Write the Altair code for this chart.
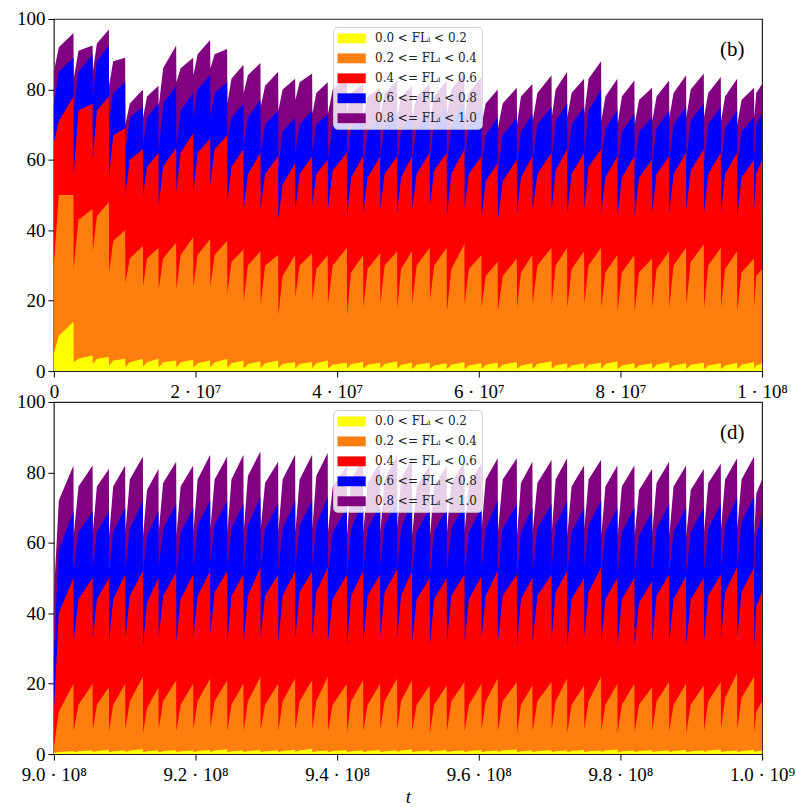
import json
import altair as alt
import pandas as pd

# ---------------- data ----------------
# tooth start times, in units of 1e6, relative to each panel's start
TOOTH_START = [0, 2.8, 5.5, 7.8, 10.1, 12.6, 14.8, 17.3, 19.7, 22.1, 24.5, 26.8, 29.2, 31.7,
               34.1, 36.5, 38.7, 41.4, 43.7, 46.1, 48.5, 50.6, 53.1, 55.5, 58.0, 60.4, 62.7,
               65.4, 67.6, 70.3, 72.5, 74.9, 77.3, 79.6, 82.0, 84.5, 86.9, 89.3, 91.8, 94.2,
               96.5, 98.9]
SPAN = 100.0
TOP_T0 = 0.0
BOT_T0 = 900.0

SERIES = ["0.0 < FLᵢ < 0.2", "0.2 <= FLᵢ < 0.4", "0.4 <= FLᵢ < 0.6",
          "0.6 <= FLᵢ < 0.8", "0.8 <= FLᵢ < 1.0"]
COLORS = ["#ffff00", "#ff7f0e", "#ff0000", "#0000ff", "#800080"]

TOP_TICKS = [0, 2e7, 4e7, 6e7, 8e7, 1e8]
TOP_TICK_LABELS = ["0", "2 · 10⁷", "4 · 10⁷", "6 · 10⁷", "8 · 10⁷", "1 · 10⁸"]
BOT_TICKS = [9.0e8, 9.2e8, 9.4e8, 9.6e8, 9.8e8, 1.0e9]
BOT_TICK_LABELS = ["9.0 · 10⁸", "9.2 · 10⁸", "9.4 · 10⁸", "9.6 · 10⁸", "9.8 · 10⁸", "1.0 · 10⁹"]
Y_TICKS = [0, 20, 40, 60, 80, 100]
PANEL_LABELS = ["(b)", "(d)"]

# ---- top panel (b): cumulative upper boundaries, per tooth: low / knee / high ----
top_y_lo = [5, 2.5, 2, 1.5, 1.2, 1.2, 1.0, 1.0, 1.0, 1.0, 0.9, 0.8, 0.8, 0.8, 0.8, 0.7, 0.7, 0.7, 0.7, 0.7, 0.6,
            0.6, 0.6, 0.6, 0.6, 0.6, 0.6, 0.6, 0.6, 0.6, 0.6, 0.6, 0.6, 0.6, 0.6, 0.6, 0.6, 0.6, 0.6, 0.6, 0.6, 0.6]
top_y_kn = [10, 3.5, 3.5, 3, 2.5, 2.5, 2.5, 2.5, 2.2, 2.5, 2.2, 2.0, 2.2, 2.0, 2.0, 2.2, 1.8, 2.0, 1.8, 2.0, 1.8,
            1.8, 1.6, 1.8, 1.6, 1.8, 1.8, 1.6, 2.0, 1.6, 1.6, 1.8, 2.0, 1.6, 1.6, 1.8, 1.6, 1.8, 1.6, 1.6, 1.8, 1.6]
top_y_hi = [14, 4.5, 4, 3.5, 3.5, 3.5, 3, 3.2, 3, 3.4, 3, 2.8, 3, 2.6, 2.6, 3, 2.4, 2.6, 2.4, 2.8, 2.4,
            2.4, 2.2, 2.6, 2.2, 2.4, 2.6, 2.2, 2.8, 2.2, 2.2, 2.4, 2.8, 2.2, 2.2, 2.6, 2.2, 2.4, 2.2, 2.4, 2.6, 2.2]

top_o_lo = [30, 29, 34, 28, 25, 24, 23, 23, 24, 24, 22, 20, 19, 16, 21, 20, 19, 16, 18, 19, 18,
            19, 20, 17, 19, 18, 17, 18, 19, 19, 18, 19, 18, 17, 17, 18, 18, 19, 18, 18, 17, 18]
top_o_kn = [50, 43, 44, 37, 32, 32, 32, 33, 33, 33, 31, 30, 30, 27, 30, 29, 30, 28, 29, 30, 29,
            30, 30, 29, 29, 27, 27, 28, 30, 30, 29, 30, 28, 28, 28, 29, 30, 31, 30, 29, 28, 27]
top_o_hi = [50, 46, 48, 40, 35.5, 35, 36.5, 38, 37.5, 37, 34.5, 34, 33, 33, 33.5, 33, 35, 33, 33.5, 34, 34,
            35, 35, 36, 33, 31, 32, 33, 35, 35, 34, 35, 33, 33, 32, 34, 35, 36, 35, 34, 32, 29]

top_r_lo = [65, 56, 60, 55, 50, 50, 47, 51, 51, 53, 48, 46, 46, 43, 46, 47, 46, 44, 45, 46, 45,
            46, 47, 44, 46, 44, 43, 45, 46, 46, 45, 46, 45, 44, 44, 45, 45, 46, 45, 45, 44, 46]
top_r_kn = [71, 74, 74, 67, 60, 58, 58, 62, 62, 63, 58, 56, 56, 53, 56, 56, 57, 55, 55, 56, 55,
            56, 57, 56, 56, 54, 54, 55, 56, 57, 56, 58, 55, 55, 55, 56, 56, 57, 56, 56, 55, 56]
top_r_hi = [78, 76, 78, 69, 63, 62, 63.5, 67.5, 66, 67, 63, 62, 61, 59, 61, 60, 62, 61, 61, 61, 61,
            62, 62, 63, 61, 59, 60, 61, 62, 63, 62, 63, 61, 61, 60, 61, 62, 63, 62, 62, 60, 60]

top_b_lo = [76, 74, 78, 71, 62, 64, 62, 64, 72, 72, 66, 64, 62, 58, 62, 62, 60, 60, 58, 61, 59,
            60, 61, 58, 60, 58, 57, 59, 60, 60, 60, 62, 59, 58, 58, 59, 60, 60, 59, 59, 58, 60]
top_b_kn = [85, 85, 88, 79, 72, 72, 76, 74, 80, 79, 72, 72, 70, 68, 70, 70, 70, 69, 68, 70, 68,
            69, 70, 70, 70, 67, 67, 68, 70, 71, 70, 74, 69, 68, 68, 69, 70, 71, 70, 69, 68, 70]
top_b_hi = [89, 90, 92.5, 82, 75, 76, 81, 79, 84, 82, 76, 77, 74, 72, 74, 73, 74, 73, 72, 74, 73,
            74, 75, 76, 75, 72, 72, 73, 75, 76, 75, 80, 74, 73, 72, 74, 75, 76, 75, 74, 72, 73]

top_p_lo = [85, 83, 85, 81, 70, 72, 75, 82, 84, 86, 76, 79, 75, 74, 77, 73, 73, 74, 72, 73, 72,
            72, 71, 73, 72, 70, 69, 70, 71, 72, 72, 73, 71, 70, 70, 71, 72, 72, 72, 71, 70, 72]
top_p_kn = [92, 91, 93, 88, 76, 78, 86, 86, 90, 90, 83, 84, 81, 80, 82, 79, 80, 79, 78, 79, 78,
            78, 78, 80, 79, 76, 76, 78, 79, 80, 79, 83, 78, 78, 77, 78, 79, 80, 79, 78, 77, 79]
top_p_hi = [96, 92.5, 97, 89, 80, 81, 92.5, 89, 94, 91.5, 87, 87.5, 85, 83, 84.5, 82, 83.5, 81.5, 80.5, 82.5, 81,
            81.5, 82.5, 84.5, 83.5, 80, 80.5, 81.5, 84, 85, 83, 88, 83, 82.5, 80.5, 82.5, 84, 84.5, 83.5, 83, 80.5, 81.5]

# ---- bottom panel (d) ----
bot_y_lo = [0.3, 0.5, 0.6, 0.5, 0.6, 0.5, 0.5, 0.6, 0.5, 0.6, 0.5, 0.5, 0.6, 0.5, 0.6, 0.5, 0.5, 0.6, 0.5, 0.5, 0.6,
            0.5, 0.5, 0.6, 0.5, 0.5, 0.6, 0.5, 0.5, 0.6, 0.5, 0.5, 0.6, 0.5, 0.5, 0.6, 0.5, 0.5, 0.6, 0.5, 0.5, 0.5]
bot_y_kn = [0.6, 0.8, 0.9, 0.8, 1.0, 0.8, 0.9, 0.8, 0.9, 1.0, 0.8, 0.9, 0.8, 0.9, 1.0, 0.8, 0.9, 0.8, 0.9, 0.8, 1.0,
            0.8, 0.9, 0.8, 0.9, 0.8, 1.0, 0.8, 0.9, 0.8, 0.9, 0.8, 1.0, 0.8, 0.9, 0.8, 0.9, 0.8, 1.0, 0.8, 0.9, 0.8]
bot_y_hi = [0.9, 1.0, 1.2, 1.0, 1.4, 1.0, 1.1, 1.0, 1.2, 1.4, 1.0, 1.1, 1.0, 1.2, 1.5, 1.0, 1.1, 1.0, 1.2, 1.0, 1.3,
            1.0, 1.1, 1.0, 1.2, 1.0, 1.3, 1.0, 1.1, 1.0, 1.2, 1.0, 1.3, 1.0, 1.1, 1.0, 1.2, 1.0, 1.3, 1.0, 1.2, 1.0]

bot_o_lo = [2, 6.5, 7, 6.5, 7, 6, 7, 6.5, 7, 7.5, 6.5, 6.5, 7, 6.5, 7, 7, 6.5, 6, 6.5, 7, 7,
            6.5, 6, 6.5, 6.5, 7, 6.5, 6, 6.5, 7, 6, 7, 6.5, 6, 6, 6.5, 6.5, 6, 6.5, 7, 7, 6]
bot_o_kn = [12, 14, 14, 14, 15, 13, 15, 14, 15, 15, 14, 15, 14, 15, 15, 15, 14, 15, 14, 15, 15,
            14, 14, 15, 14, 15, 15, 14, 15, 15, 14, 15, 14, 14, 14, 15, 14, 14, 15, 16, 16, 12]
bot_o_hi = [20, 20, 19, 20, 22, 19, 21, 20, 21.5, 21, 20, 22, 20, 21.5, 21, 22, 20, 21, 20, 21.5, 21,
            19.5, 19.5, 20.5, 20, 21.5, 20.5, 19.5, 20.5, 21.5, 19.5, 22, 20, 20, 19, 20.5, 20, 19.5, 20.5, 23, 22, 15]

bot_r_lo = [12, 32, 33, 32, 33, 31, 33, 32, 33, 34, 32, 32, 33, 32, 33, 33, 32, 31, 32, 33, 33,
            32, 31, 32, 32, 33, 32, 31, 32, 33, 31, 33, 32, 31, 31, 32, 32, 31, 32, 33, 33, 30]
bot_r_kn = [40, 44, 44, 44, 45, 43, 45, 44, 45, 46, 45, 45, 45, 45, 46, 46, 44, 45, 45, 46, 45,
            44, 44, 45, 44, 45, 45, 44, 45, 46, 44, 46, 44, 44, 43, 45, 44, 44, 45, 46, 46, 42]
bot_r_hi = [50, 50, 50, 51, 52, 50, 51.5, 51, 52, 52, 51, 53, 51, 52, 52, 53, 51, 52, 51, 52.5, 52,
            50, 50, 51, 50.5, 52, 51, 50, 51, 52, 50, 53, 50, 50, 49, 51, 50.5, 50, 51, 53, 53, 46]

bot_b_lo = [28, 52, 53, 52, 53, 52, 53, 51, 53, 54, 53, 52, 53, 52, 53, 53, 52, 51, 52, 53, 53,
            52, 51, 52, 52, 53, 52, 51, 52, 53, 51, 53, 52, 51, 51, 52, 52, 51, 52, 53, 53, 51]
bot_b_kn = [58, 63, 63, 63, 64, 62, 64, 63, 65, 65, 64, 65, 64, 64, 65, 65, 63, 64, 64, 65, 64,
            63, 63, 64, 63, 64, 64, 63, 64, 65, 63, 65, 63, 63, 62, 64, 63, 63, 64, 65, 66, 62]
bot_b_hi = [69, 69, 69, 70, 72, 69, 71, 70, 72, 72, 71, 73, 71, 72, 72, 73, 70, 72, 71, 72, 72,
            70, 70, 71, 70, 72, 71, 70, 71, 72, 70, 72, 70, 70, 69, 71, 70, 70, 71, 73, 73, 68]

bot_p_lo = [45, 62, 63, 62, 63, 62, 63, 62, 63, 64, 63, 63, 64, 63, 63, 64, 63, 62, 63, 63, 64,
            62, 62, 63, 63, 64, 63, 62, 63, 63, 62, 64, 62, 62, 62, 63, 62, 62, 63, 64, 64, 62]
bot_p_kn = [72, 76, 76, 76, 78, 75, 77, 76, 78, 78, 78, 79, 77, 78, 78, 79, 76, 78, 77, 78, 78,
            76, 76, 77, 77, 78, 78, 77, 77, 78, 76, 78, 76, 76, 75, 77, 76, 75, 77, 78, 78, 74]
bot_p_hi = [82, 82, 81, 82, 84.5, 81, 83, 82, 85, 84.5, 85, 86, 83, 85, 85, 85.5, 82, 84, 83, 85, 84,
            82, 82, 83, 82.5, 84, 84, 83, 83.5, 84, 82, 83.6, 82, 82, 81, 83, 82, 81, 82.5, 84, 84.5, 78]

TOP_BOUNDS = [(top_y_lo, top_y_kn, top_y_hi), (top_o_lo, top_o_kn, top_o_hi),
              (top_r_lo, top_r_kn, top_r_hi), (top_b_lo, top_b_kn, top_b_hi),
              (top_p_lo, top_p_kn, top_p_hi)]
BOT_BOUNDS = [(bot_y_lo, bot_y_kn, bot_y_hi), (bot_o_lo, bot_o_kn, bot_o_hi),
              (bot_r_lo, bot_r_kn, bot_r_hi), (bot_b_lo, bot_b_kn, bot_b_hi),
              (bot_p_lo, bot_p_kn, bot_p_hi)]

FONT = "Liberation Serif"
LEGEND_FONT = "DejaVu Serif"


def build(t0, bounds):
    rows = []
    n = len(TOOTH_START)
    for si, (lo, kn, hi) in enumerate(bounds):
        for k in range(n):
            s = TOOTH_START[k]
            e = TOOTH_START[k + 1] if k + 1 < n else SPAN
            end = e - 0.03 if k + 1 < n else e
            for tt, v in ((s, lo[k]), (s + 0.25 * (e - s), kn[k]), (end, hi[k])):
                rows.append({"t": (t0 + tt) * 1e6, "series": SERIES[si], "top": v})
    return pd.DataFrame(rows)


def label_expr(t0, labels):
    arr = json.dumps(labels, ensure_ascii=False)
    return f"{arr}[round((datum.value - {t0 * 1e6}) / 20000000)]"


def panel(t0, bounds, ticks, tick_labels, plabel, xtitle):
    df = build(t0, bounds)
    x = alt.X("t:Q",
              scale=alt.Scale(domain=[t0 * 1e6, (t0 + SPAN) * 1e6], nice=False, zero=False),
              axis=alt.Axis(values=ticks, labelExpr=label_expr(t0, tick_labels), title=xtitle,
                            labelFlush=False, labelOverlap=False, labelPadding=5,
                            titleFontStyle="italic", titleFont=FONT, titleFontSize=19,
                            titleFontWeight="normal", titlePadding=3))
    y = alt.Y("top:Q", stack=None, scale=alt.Scale(domain=[0, 100], nice=False),
              axis=alt.Axis(values=Y_TICKS, title=""))
    color = alt.Color("series:N",
                      scale=alt.Scale(domain=SERIES, range=COLORS),
                      title=None,
                      legend=alt.Legend(orient="none", legendX=280, legendY=8,
                                        symbolType="M-2,-0.7L2,-0.7L2,0.7L-2,0.7Z",
                                        symbolSize=200, symbolStrokeWidth=0, symbolOpacity=1,
                                        symbolOffset=7,
                                        labelFont=LEGEND_FONT, labelFontSize=12, labelColor="#222",
                                        rowPadding=6, labelOffset=16, padding=4,
                                        fillColor="rgba(255,255,255,0.82)",
                                        strokeColor="#cccccc", cornerRadius=4))
    layers = []
    for name in reversed(SERIES):
        layers.append(
            alt.Chart(df).transform_filter(alt.datum.series == name)
            .mark_area(interpolate="linear", opacity=1)
            .encode(x=x, y=y, color=color)
        )
    lab = alt.Chart(pd.DataFrame({"label": [plabel]})).mark_text(
        font=FONT, fontSize=21, align="center", baseline="middle", color="black"
    ).encode(x=alt.value(680), y=alt.value(31), text="label:N")
    layers.append(lab)
    return alt.layer(*layers).properties(width=710, height=353)


top = panel(TOP_T0, TOP_BOUNDS, TOP_TICKS, TOP_TICK_LABELS, PANEL_LABELS[0], "")
bot = panel(BOT_T0, BOT_BOUNDS, BOT_TICKS, BOT_TICK_LABELS, PANEL_LABELS[1], "t")

chart = (
    alt.vconcat(top, bot, spacing=-10)
    .resolve_legend(color="independent")
    .properties(padding={"left": 15, "top": 8, "right": 0, "bottom": 2}, background="white")
    .configure_view(stroke="#222", strokeWidth=1.2)
    .configure_axis(labelFont=FONT, labelFontSize=19, labelColor="black", tickColor="black",
                    tickSize=6, labelPadding=3, domain=False, grid=False)
)

chart.save("out.html", embed_options={"renderer": "svg", "actions": False})
